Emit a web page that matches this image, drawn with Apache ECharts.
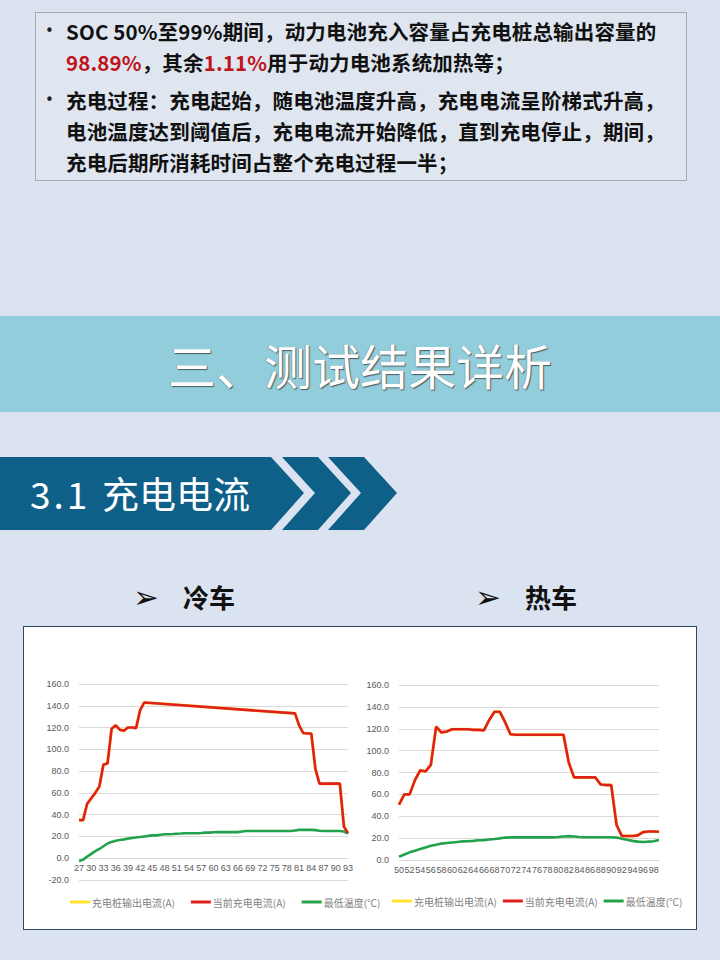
<!DOCTYPE html>
<html>
<head>
<meta charset="utf-8">
<script src="https://cdn.jsdelivr.net/npm/echarts@6/dist/echarts.min.js"></script>
<style>
  html, body { margin: 0; padding: 0; }
  body { width: 720px; height: 960px; background: #DAE3EF; position: relative; overflow: hidden;
         font-family: "Noto Sans CJK SC", "Noto Sans", sans-serif; }
  .abs { position: absolute; }
  #notes { left: 35px; top: 12px; width: 650px; height: 167px; border: 1px solid #A3ABB7; background: #DFE6F0; }
  .ln { position: absolute; left: 30px; height: 31px; line-height: 31px; font-size: 20.5px; font-weight: 700;
        color: #111; white-space: nowrap; letter-spacing: 0.15px; }
  .bul { position: absolute; left: 9px; font-family: "DejaVu Sans", sans-serif; font-size: 15px; line-height: 31px; color: #222; }
  .red { color: #C0141B; }
  #banner { left: 0; top: 316px; width: 720px; height: 96px; background: #92CDDC; }
  #bannerTxt { left: 0; top: 316px; width: 720px; height: 96px; line-height: 96px; text-align: center;
               font-size: 48px; font-weight: 400; color: #fff; letter-spacing: 0px;
               text-shadow: 1px 1px 1px #4a5a60, -0.5px -0.5px 0 #7a8a90; }
  #secTxt { left: 30px; top: 457px; height: 73px; line-height: 72px; font-size: 37px; color: #fff; font-weight: 400; }
  .arrowH { font-size: 26px; font-weight: 700; color: #111; line-height: 30px; top: 582px; }
  .arrowG { font-family: "DejaVu Sans", sans-serif; font-size: 31px; font-weight: 700; position: absolute; top: 0px; line-height: 30px; }
  #box { left: 23px; top: 626px; width: 672px; height: 302px; border: 1px solid #2F4A5E; background: #fff; }
  #chart { left: 24px; top: 627px; width: 672px; height: 302px; }
</style>
</head>
<body>
<div id="notes" class="abs">
  <span class="bul" style="top:3px">•</span>
  <div class="ln" style="top:3px">SOC 50%至99%期间，动力电池充入容量占充电桩总输出容量的</div>
  <div class="ln" style="top:34px"><span class="red">98.89%</span>，其余<span class="red">1.11%</span>用于动力电池系统加热等；</div>
  <span class="bul" style="top:72px">•</span>
  <div class="ln" style="top:72px">充电过程：充电起始，随电池温度升高，充电电流呈阶梯式升高，</div>
  <div class="ln" style="top:103px">电池温度达到阈值后，充电电流开始降低，直到充电停止，期间，</div>
  <div class="ln" style="top:134px">充电后期所消耗时间占整个充电过程一半；</div>
</div>

<div id="banner" class="abs"></div>
<div id="bannerTxt" class="abs">三、测试结果详析</div>

<svg class="abs" style="left:0;top:0" width="720" height="960">
  <polygon points="0,457 271,457 304,493 271,530 0,530" fill="#0E6088"/>
  <polygon points="282,457 318,457 351,493 318,530 282,530 315,493" fill="#0E6088"/>
  <polygon points="328,457 364,457 397,493 364,530 328,530 361,493" fill="#0E6088"/>
</svg>
<div id="secTxt" class="abs"><span style="display:inline-block;width:72px;letter-spacing:3px">3.1</span>充电电流</div>

<div class="abs arrowH" style="left:133px;width:120px"><span class="arrowG" style="left:0">➢</span><span style="position:absolute;left:50px">冷车</span></div>
<div class="abs arrowH" style="left:475px;width:120px"><span class="arrowG" style="left:0">➢</span><span style="position:absolute;left:50px">热车</span></div>

<div id="box" class="abs"></div>
<div id="chart" class="abs"></div>

<script>
// ---------- data ----------
const seriesNames = ['充电桩输出电流(A)', '当前充电电流(A)', '最低温度(℃)'];

// 冷车 (cold vehicle): SOC categories 27..93
const coldSoc = [27,28,29,30,31,32,33,34,35,36,37,38,39,40,41,42,43,44,45,46,47,48,49,50,51,52,53,54,55,56,57,58,59,60,
  61,62,63,64,65,66,67,68,69,70,71,72,73,74,75,76,77,78,79,80,81,82,83,84,85,86,87,88,89,90,91,92,93];
const coldCurrent = [35,35,50,55,60,66,86,87,119,122,118,117,120,120,119.5,136,143,
  null,null,null,null,null,null,null,null,null,null,null,null,null,null,null,null,null,null,
  null,null,null,null,null,null,null,null,null,null,null,null,null,null,null,null,null,null,
  133,122,115,114.5,114.5,82,68.5,68.5,68.5,68.5,68.5,68.5,29,23];
const coldPileOutput = [35,35,50,55,60,66,86,87,119,122,118,117,120,120,119.5,136,143,
  null,null,null,null,null,null,null,null,null,null,null,null,null,null,null,null,null,null,
  null,null,null,null,null,null,null,null,null,null,null,null,null,null,null,null,null,null,
  133,122,115,114.5,114.5,82,68.5,68.5,68.5,68.5,68.5,68.5,29,23];
const coldTemp = [-2.5,-1.5,1.5,4,6.5,8.5,11,13.5,15,16,16.8,17.3,18,18.5,19,19.5,20,20.5,21,21,21.5,22,22,22.2,22.5,22.7,
  23,23,23,23,23.2,23.5,23.5,23.8,24,24,24,24,24,24,24.5,25,25,25,25,25,25,25,25,25,25,25,25,
  25.5,26,26,26,26,25.8,25.3,25,25,25,25,25,24.5,22.5];
const coldYTicks = { min: -20, max: 160, step: 20 };

// 热车 (hot vehicle): SOC categories 50..99
const hotSoc = [50,51,52,53,54,55,56,57,58,59,60,61,62,63,64,65,66,67,68,69,70,71,72,73,74,
  75,76,77,78,79,80,81,82,83,84,85,86,87,88,89,90,91,92,93,94,95,96,97,98,99];
const hotCurrent = [50.5,60,60,73,82,81,87,122,116.5,117.5,119.5,119.5,119.5,119.5,119,119,118.5,128,135.5,135.5,
  126,115,114.5,114.5,114.5,114.5,114.5,114.5,114.5,114.5,114.5,114.5,89,75.5,75.5,75.5,75.5,75.5,69,68.5,68.5,
  32,22,22,22,22.5,25.5,26,26,25.8];
const hotPileOutput = [50.5,60,60,73,82,81,87,122,116.5,117.5,119.5,119.5,119.5,119.5,119,119,118.5,128,135.5,135.5,
  126,115,114.5,114.5,114.5,114.5,114.5,114.5,114.5,114.5,114.5,114.5,89,75.5,75.5,75.5,75.5,75.5,69,68.5,68.5,
  32,22,22,22,22.5,25.5,26,26,25.8];
const hotTemp = [3,5,7,8.5,10,11.5,13,14,15,15.5,16,16.5,17,17.2,17.5,18,18.2,18.7,19.2,19.8,20.5,20.7,20.7,20.7,20.7,
  20.7,20.7,20.7,20.7,20.7,21,21.5,21.8,21.5,21,20.8,20.8,20.8,20.8,20.8,20.8,20.5,19.5,18.5,17.5,16.8,16.5,16.8,17.2,18.2];
const hotYTicks = { min: 0, max: 160, step: 20 };

// ---------- chart ----------
const colors = ['#FFE033', '#E0201C', '#22A34B'];
const axisFont = { fontFamily: 'Liberation Sans, Arial, sans-serif', fontSize: 9, color: '#595959' };
const gridColor = '#D9D9D9';
const grids = [
  { left: 55, top: 57, width: 269, height: 196 },
  { left: 375, top: 58, width: 260, height: 175 }
];
const yTicks = [coldYTicks, hotYTicks];

// offset that places the category axis at value 0 of its value axis
function zeroOffset(idx) {
  const t = yTicks[idx], g = grids[idx];
  return -(0 - t.min) / (t.max - t.min) * g.height;
}
function xAxisFor(idx, cats, labelInterval) {
  return {
    type: 'category', gridIndex: idx, data: cats.map(String), boundaryGap: false,
    offset: zeroOffset(idx),
    axisLine: { show: true, onZero: false, lineStyle: { color: gridColor } },
    axisTick: { show: false },
    axisLabel: Object.assign({ interval: labelInterval, margin: 5, hideOverlap: false }, axisFont),
    splitLine: { show: false }
  };
}
function yAxisFor(idx) {
  const t = yTicks[idx];
  return {
    type: 'value', gridIndex: idx, min: t.min, max: t.max, interval: t.step,
    axisLine: { show: false }, axisTick: { show: false },
    axisLabel: Object.assign({ margin: 10, formatter: v => v.toFixed(1) }, axisFont),
    splitLine: { lineStyle: { color: gridColor, width: 1 } }
  };
}
function lineSeries(name, idx, data, color, width, z) {
  return {
    name: name, type: 'line', xAxisIndex: idx, yAxisIndex: idx, data: data,
    symbol: 'none', connectNulls: true, smooth: false, z: z,
    lineStyle: { color: color, width: width }, itemStyle: { color: color }
  };
}
const legendBase = {
  icon: 'rect', itemWidth: 20, itemHeight: 3, data: seriesNames,
  textStyle: { color: '#7F7F7F', fontSize: 10, fontFamily: 'Noto Sans CJK SC, sans-serif', padding: [0, 0, 0, -3] }
};

const chart = echarts.init(document.getElementById('chart'), null, { renderer: 'svg' });
chart.setOption({
  animation: false,
  color: colors,
  grid: grids,
  xAxis: [xAxisFor(0, coldSoc, 2), xAxisFor(1, hotSoc, 1)],
  yAxis: [yAxisFor(0), yAxisFor(1)],
  legend: [
    Object.assign({ left: 41, top: 265, itemGap: 16 }, legendBase),
    Object.assign({ left: 363, top: 264, itemGap: 6 }, legendBase)
  ],
  series: [
    lineSeries(seriesNames[0], 0, coldPileOutput, colors[0], 3, 1),
    lineSeries(seriesNames[1], 0, coldCurrent, colors[1], 2.6, 3),
    lineSeries(seriesNames[2], 0, coldTemp, colors[2], 2.6, 2),
    lineSeries(seriesNames[0], 1, hotPileOutput, colors[0], 3, 1),
    lineSeries(seriesNames[1], 1, hotCurrent, colors[1], 2.6, 3),
    lineSeries(seriesNames[2], 1, hotTemp, colors[2], 2.6, 2)
  ]
});
</script>
</body>
</html>
